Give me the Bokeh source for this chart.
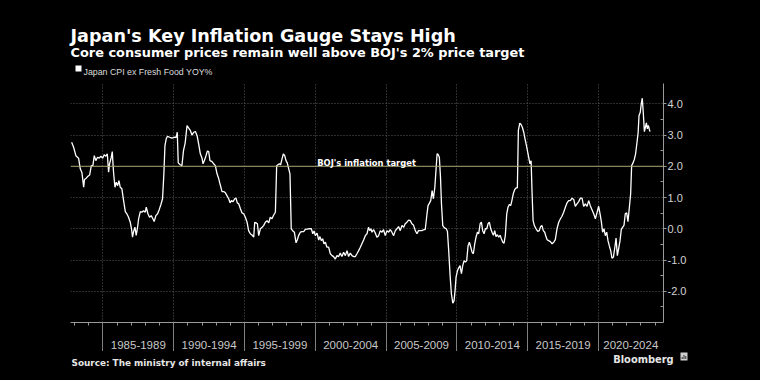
from bokeh.plotting import figure
from bokeh.layouts import column
from bokeh.models import (Range1d, LinearAxis, FixedTicker, Span, Label,
                          CustomJSTickFormatter, NumeralTickFormatter)
from bokeh.embed import file_html
from bokeh.resources import INLINE

# ---- data ----
dates = [
    1982.79, 1982.93, 1983.09, 1983.28, 1983.40, 1983.52, 1983.64, 1983.70, 1983.82, 1983.94,
    1984.06, 1984.18, 1984.29, 1984.39, 1984.50, 1984.62, 1984.74, 1984.86, 1984.98, 1985.09,
    1985.21, 1985.31, 1985.40, 1985.47, 1985.59, 1985.66, 1985.75, 1985.85, 1985.94, 1986.04,
    1986.13, 1986.22, 1986.34, 1986.46, 1986.58, 1986.69, 1986.81, 1986.93, 1987.02, 1987.09,
    1987.16, 1987.26, 1987.35, 1987.45, 1987.52, 1987.64, 1987.75, 1987.87, 1987.99, 1988.06,
    1988.18, 1988.29, 1988.41, 1988.53, 1988.62, 1988.74, 1988.86, 1988.98, 1989.09, 1989.21,
    1989.31, 1989.38, 1989.47, 1989.56, 1989.71, 1989.87, 1990.04, 1990.18, 1990.25, 1990.32,
    1990.46, 1990.58, 1990.69, 1990.81, 1990.94, 1991.06, 1991.18, 1991.29, 1991.41, 1991.53,
    1991.65, 1991.76, 1991.88, 1992.00, 1992.07, 1992.16, 1992.28, 1992.38, 1992.47, 1992.56,
    1992.71, 1992.82, 1992.94, 1993.06, 1993.18, 1993.29, 1993.41, 1993.53, 1993.65, 1993.76,
    1993.88, 1993.98, 1994.07, 1994.19, 1994.31, 1994.40, 1994.49, 1994.59, 1994.71, 1994.82,
    1994.94, 1995.06, 1995.18, 1995.29, 1995.41, 1995.53, 1995.65, 1995.72, 1995.81, 1995.91,
    1996.00, 1996.12, 1996.24, 1996.35, 1996.47, 1996.59, 1996.71, 1996.82, 1996.94, 1997.06,
    1997.18, 1997.27, 1997.36, 1997.46, 1997.55, 1997.65, 1997.74, 1997.84, 1997.93, 1998.02,
    1998.12, 1998.21, 1998.30, 1998.40, 1998.52, 1998.64, 1998.73, 1998.82, 1998.94, 1999.06,
    1999.18, 1999.29, 1999.53, 1999.72, 1999.82, 1999.91, 2000.00, 2000.12, 2000.24, 2000.33,
    2000.42, 2000.52, 2000.61, 2000.71, 2000.82, 2000.94, 2001.06, 2001.18, 2001.29, 2001.41,
    2001.53, 2001.65, 2001.76, 2001.88, 2002.00, 2002.12, 2002.24, 2002.35, 2002.47, 2002.59,
    2002.71, 2002.82, 2002.94, 2003.06, 2003.18, 2003.29, 2003.41, 2003.53, 2003.65, 2003.76,
    2003.84, 2003.93, 2004.00, 2004.12, 2004.24, 2004.35, 2004.47, 2004.59, 2004.71, 2004.82,
    2004.94, 2005.06, 2005.18, 2005.29, 2005.41, 2005.53, 2005.65, 2005.76, 2005.88, 2006.00,
    2006.12, 2006.24, 2006.35, 2006.47, 2006.59, 2006.71, 2006.82, 2006.94, 2007.06, 2007.18,
    2007.29, 2007.41, 2007.53, 2007.65, 2007.76, 2007.89, 2007.96, 2008.06, 2008.15, 2008.25,
    2008.34, 2008.44, 2008.53, 2008.60, 2008.67, 2008.76, 2008.84, 2008.91, 2009.00, 2009.12,
    2009.24, 2009.33, 2009.42, 2009.52, 2009.61, 2009.71, 2009.80, 2009.87, 2009.94, 2010.04,
    2010.13, 2010.22, 2010.32, 2010.41, 2010.51, 2010.60, 2010.69, 2010.79, 2010.88, 2010.98,
    2011.07, 2011.16, 2011.26, 2011.35, 2011.45, 2011.54, 2011.64, 2011.73, 2011.82, 2011.92,
    2012.01, 2012.11, 2012.20, 2012.29, 2012.39, 2012.48, 2012.58, 2012.67, 2012.76, 2012.86,
    2012.95, 2013.05, 2013.14, 2013.24, 2013.33, 2013.42, 2013.52, 2013.61, 2013.71, 2013.80,
    2013.89, 2013.99, 2014.08, 2014.18, 2014.27, 2014.34, 2014.44, 2014.53, 2014.62, 2014.72,
    2014.81, 2014.91, 2015.00, 2015.09, 2015.16, 2015.24, 2015.31, 2015.38, 2015.47, 2015.59,
    2015.71, 2015.82, 2015.91, 2016.01, 2016.10, 2016.20, 2016.29, 2016.37, 2016.48, 2016.60,
    2016.72, 2016.84, 2016.95, 2017.07, 2017.19, 2017.31, 2017.42, 2017.54, 2017.66, 2017.78,
    2017.89, 2018.01, 2018.13, 2018.25, 2018.36, 2018.48, 2018.60, 2018.72, 2018.84, 2018.95,
    2019.07, 2019.19, 2019.31, 2019.42, 2019.54, 2019.66, 2019.78, 2019.89, 2020.01, 2020.11,
    2020.20, 2020.29, 2020.39, 2020.48, 2020.58, 2020.67, 2020.76, 2020.86, 2020.95, 2021.05,
    2021.14, 2021.24, 2021.33, 2021.42, 2021.52, 2021.61, 2021.71, 2021.80, 2021.89, 2021.99,
    2022.08, 2022.18, 2022.27, 2022.34, 2022.44, 2022.53, 2022.62, 2022.72, 2022.80, 2022.86,
    2022.95, 2023.02, 2023.09, 2023.16, 2023.24, 2023.31, 2023.38, 2023.45, 2023.52, 2023.59,
    2023.64,
]
cpi = [
    2.77, 2.61, 2.34, 2.26, 1.92, 1.79, 1.33, 1.58, 1.62, 1.68,
    1.72, 2.02, 2.02, 2.34, 2.18, 2.29, 2.26, 2.32, 2.26, 2.37,
    2.32, 2.40, 1.81, 2.08, 2.29, 2.47, 1.81, 1.33, 1.49, 1.38,
    1.54, 1.33, 1.28, 0.90, 0.55, 0.48, 0.37, 0.21, 0.00, -0.27,
    -0.10, 0.05, -0.21, 0.05, 0.32, 0.55, 0.53, 0.58, 0.53, 0.69,
    0.48, 0.37, 0.42, 0.32, 0.23, 0.42, 0.48, 0.62, 0.77, 0.96,
    1.81, 2.66, 2.88, 2.96, 2.93, 2.90, 2.93, 2.93, 3.09, 2.11,
    2.05, 2.02, 2.50, 2.75, 3.30, 3.22, 3.14, 3.00, 3.09, 3.11,
    2.98, 2.72, 2.40, 2.26, 2.08, 2.18, 2.34, 2.49, 2.47, 2.18,
    2.15, 2.08, 2.02, 1.76, 1.60, 1.40, 1.19, 1.19, 1.15, 1.06,
    0.96, 0.83, 0.90, 0.87, 0.96, 0.98, 0.83, 0.80, 0.64, 0.51,
    0.48, 0.37, 0.21, -0.06, -0.16, -0.20, -0.27, 0.21, 0.19, 0.16,
    -0.22, 0.00, 0.05, 0.10, 0.21, 0.26, 0.19, 0.37, 0.32, 0.44,
    0.53, 2.02, 2.05, 2.08, 2.05, 2.24, 2.40, 2.34, 2.18, 2.11,
    1.92, 1.76, 0.00, -0.06, -0.11, -0.45, -0.35, -0.22, -0.11, -0.09,
    -0.09, -0.02, 0.00, 0.00, -0.16, -0.07, -0.22, -0.14, -0.36, -0.25,
    -0.38, -0.32, -0.48, -0.43, -0.59, -0.59, -0.80, -0.86, -0.89, -0.97,
    -0.86, -0.89, -0.78, -0.89, -0.75, -0.86, -0.70, -0.89, -0.78, -0.86,
    -0.89, -0.89, -0.80, -0.70, -0.59, -0.48, -0.36, -0.22, -0.16, 0.05,
    -0.06, 0.00, -0.11, -0.03, -0.14, -0.27, -0.22, -0.06, -0.11, -0.03,
    -0.22, -0.06, -0.11, -0.03, -0.11, -0.22, -0.06, 0.00, 0.07, -0.06,
    0.11, 0.05, 0.16, 0.21, 0.28, 0.26, 0.16, 0.11, -0.06, -0.16,
    -0.06, -0.06, -0.06, -0.03, -0.03, 0.48, 0.74, 0.82, 0.90, 1.22,
    0.96, 1.33, 1.92, 2.40, 2.38, 2.29, 1.65, 0.80, 0.10, 0.03,
    0.00, -0.08, -0.70, -1.50, -2.08, -2.38, -2.30, -1.98, -1.55, -1.34,
    -1.25, -1.18, -1.44, -1.18, -1.02, -1.07, -1.02, -0.54, -0.43, -0.59,
    -0.75, -0.80, -0.48, -0.27, -0.11, -0.16, 0.16, 0.21, -0.06, -0.16,
    0.00, 0.00, 0.16, 0.21, 0.00, -0.11, -0.21, -0.06, -0.25, -0.19,
    -0.27, -0.21, -0.32, -0.43, -0.46, -0.21, 0.48, 0.69, 0.78, 0.74,
    0.92, 1.14, 1.25, 1.31, 1.31, 3.15, 3.38, 3.34, 3.25, 3.09,
    2.88, 2.66, 2.45, 2.24, 2.08, 2.18, 1.12, 0.26, 0.10, 0.00,
    -0.08, -0.06, 0.07, 0.10, -0.06, -0.11, -0.25, -0.35, -0.38, -0.41,
    -0.48, -0.43, -0.35, 0.00, 0.21, 0.32, 0.40, 0.53, 0.69, 0.83,
    0.90, 0.90, 0.98, 0.94, 0.72, 0.80, 0.87, 0.98, 0.98, 0.72,
    0.80, 0.72, 0.90, 0.74, 0.61, 0.48, 0.32, 0.51, 0.72, 0.48,
    0.23, -0.11, 0.00, -0.22, -0.11, -0.38, -0.54, -0.70, -0.94, -0.91,
    -0.64, -0.30, -0.86, -0.64, -0.38, -0.02, 0.05, 0.11, 0.48, 0.51,
    0.23, 0.69, 1.12, 2.02, 2.11, 2.22, 2.40, 2.77, 3.09, 3.62,
    3.73, 4.00, 4.18, 3.73, 3.11, 3.25, 3.39, 3.20, 3.31, 3.18,
    3.11,
]
target = 2.0
y_ticks = [-2, -1, 0, 1, 2, 3, 4]
y_minor = [-2.5, -1.5, -0.5, 0.5, 1.5, 2.5, 3.5]
period_starts = [1985, 1990, 1995, 2000, 2005, 2010, 2015, 2020]
period_labels = ["1985-1989", "1990-1994", "1995-1999", "2000-2004",
                 "2005-2009", "2010-2014", "2015-2019", "2020-2024"]
period_centers = [1987.5, 1992.5, 1997.5, 2002.5, 2007.5, 2012.5, 2017.5, 2022.28]
year_ticks = list(range(1983, 2025))

title = "Japan's Key Inflation Gauge Stays High"
subtitle = "Core consumer prices remain well above BOJ's 2% price target"
legend_text = "Japan CPI ex Fresh Food YOY%"
target_text = "BOJ's inflation target"
source_text = "Source: The ministry of internal affairs"
brand_text = "Bloomberg"

BG = "#000000"
GRID = "#5a5a5a"
AXIS = "#9a9a9a"
TXT = "#d2d2d2"
W = 760


def blank(height):
    f = figure(width=W, height=height, output_backend="svg", toolbar_location=None,
               x_range=Range1d(0, W), y_range=Range1d(height, 0),
               x_axis_location=None, y_axis_location=None,
               min_border=0, min_border_left=0, min_border_right=0,
               min_border_top=0, min_border_bottom=0, frame_align=False)
    f.background_fill_color = BG
    f.border_fill_color = BG
    f.outline_line_color = None
    f.xgrid.visible = False
    f.ygrid.visible = False
    return f


# ---------- header ----------
HDR = 78
hdr = blank(HDR)
hdr.add_layout(Label(x=70, y=35, text=title, text_font="DejaVu Sans",
                     text_font_style="bold", text_font_size="17.6px",
                     text_color="white", text_baseline="alphabetic"))
hdr.add_layout(Label(x=70, y=51.7, text=subtitle, text_font="DejaVu Sans",
                     text_font_style="bold", text_font_size="12.9px",
                     text_color="white", text_baseline="alphabetic"))
hdr.rect(x=[78], y=[68], width=6, height=6, fill_color="white", line_color=None)
hdr.add_layout(Label(x=83, y=71, text=legend_text, text_font="Liberation Sans",
                     text_font_size="8.8px", text_color="#dcdcdc",
                     text_baseline="alphabetic"))

# ---------- main chart ----------
MAIN_H = 273
p = figure(width=W, height=MAIN_H, output_backend="svg", toolbar_location=None,
           x_range=Range1d(1982.71, 2024.59), y_range=Range1d(-3.0, 4.65),
           x_axis_location="below", y_axis_location="right",
           min_border_left=70, min_border_right=97, min_border_top=5,
           min_border_bottom=29, frame_align=False)
p.background_fill_color = BG
p.border_fill_color = BG
p.outline_line_color = None

ya = p.yaxis[0]
ya.ticker = FixedTicker(ticks=y_ticks, minor_ticks=y_minor)
ya.formatter = NumeralTickFormatter(format="0.0")
ya.axis_line_color = AXIS
ya.major_tick_line_color = AXIS
ya.minor_tick_line_color = AXIS
ya.major_tick_out = 3
ya.major_tick_in = 0
ya.minor_tick_out = 0
ya.minor_tick_in = 3
ya.major_label_standoff = 1
ya.major_label_text_color = TXT
ya.major_label_text_font = "Liberation Sans"
ya.major_label_text_font_size = "11px"

# bottom axis: period labels centred in their cells, yearly minor ticks
xa = p.xaxis[0]
xa.ticker = FixedTicker(ticks=period_centers, minor_ticks=year_ticks)
xa.major_label_overrides = {c: lab for c, lab in zip(period_centers, period_labels)}
xa.axis_line_color = AXIS
xa.major_tick_line_color = None
xa.major_tick_out = 0
xa.major_tick_in = 0
xa.minor_tick_line_color = AXIS
xa.minor_tick_out = 3
xa.minor_tick_in = 0
xa.major_label_standoff = 15
xa.major_label_text_color = "#c8c8c8"
xa.major_label_text_font = "Liberation Sans"
xa.major_label_text_font_size = "11.5px"

# second bottom axis: period separators reaching up to the frame
sep = LinearAxis(ticker=FixedTicker(ticks=period_starts),
                 formatter=CustomJSTickFormatter(code="return ''"))
sep.axis_line_color = None
sep.major_tick_line_color = "#808080"
sep.major_tick_in = 29
sep.major_tick_out = 0
sep.minor_tick_line_color = None
sep.major_label_standoff = 0
sep.major_label_text_font_size = "0px"
p.add_layout(sep, "below")

p.xgrid.ticker = FixedTicker(ticks=period_starts)
p.ygrid.ticker = FixedTicker(ticks=[t for t in y_ticks if t != target])
for g in (p.xgrid, p.ygrid):
    g.grid_line_color = GRID
    g.grid_line_dash = "1 2"
    g.grid_line_width = 1

p.line(dates, cpi, line_color="white", line_width=1.3)

p.add_layout(Span(location=target, dimension="width", line_color="#aaa878",
                  line_width=1))
p.add_layout(Label(x=2000.13, y=target, y_offset=3, text=target_text,
                   text_font="DejaVu Sans", text_font_style="bold",
                   text_font_size="8.4px", text_color="white",
                   text_baseline="alphabetic"))

# ---------- footer ----------
FTR = 380 - HDR - MAIN_H
ftr = blank(FTR)
top = HDR + MAIN_H
ftr.add_layout(Label(x=71, y=362 - top, text=source_text, text_font="DejaVu Sans",
                     text_font_style="bold", text_font_size="8.9px",
                     text_color="#e6e6e6", text_baseline="alphabetic"))
ftr.add_layout(Label(x=612.7, y=359.3 - top, text=brand_text, text_font="DejaVu Sans",
                     text_font_style="bold", text_font_size="9.9px",
                     text_color="#e6e6e6", text_baseline="alphabetic"))
ftr.rect(x=[683.5], y=[356 - top], width=7, height=8, fill_color="#cfcfcf",
         line_color=None)
ftr.vbar(x=[681.7, 683.5, 685.3], bottom=[358.5 - top] * 3,
         top=[356.5 - top, 354.5 - top, 355.5 - top], width=1.0,
         fill_color="#333333", line_color=None)

layout = column(hdr, p, ftr, spacing=0)
html = file_html(layout, INLINE)
html = html.replace("</head>", "<style>html,body{background:#000;}</style></head>", 1)
open("out.html", "w").write(html)
